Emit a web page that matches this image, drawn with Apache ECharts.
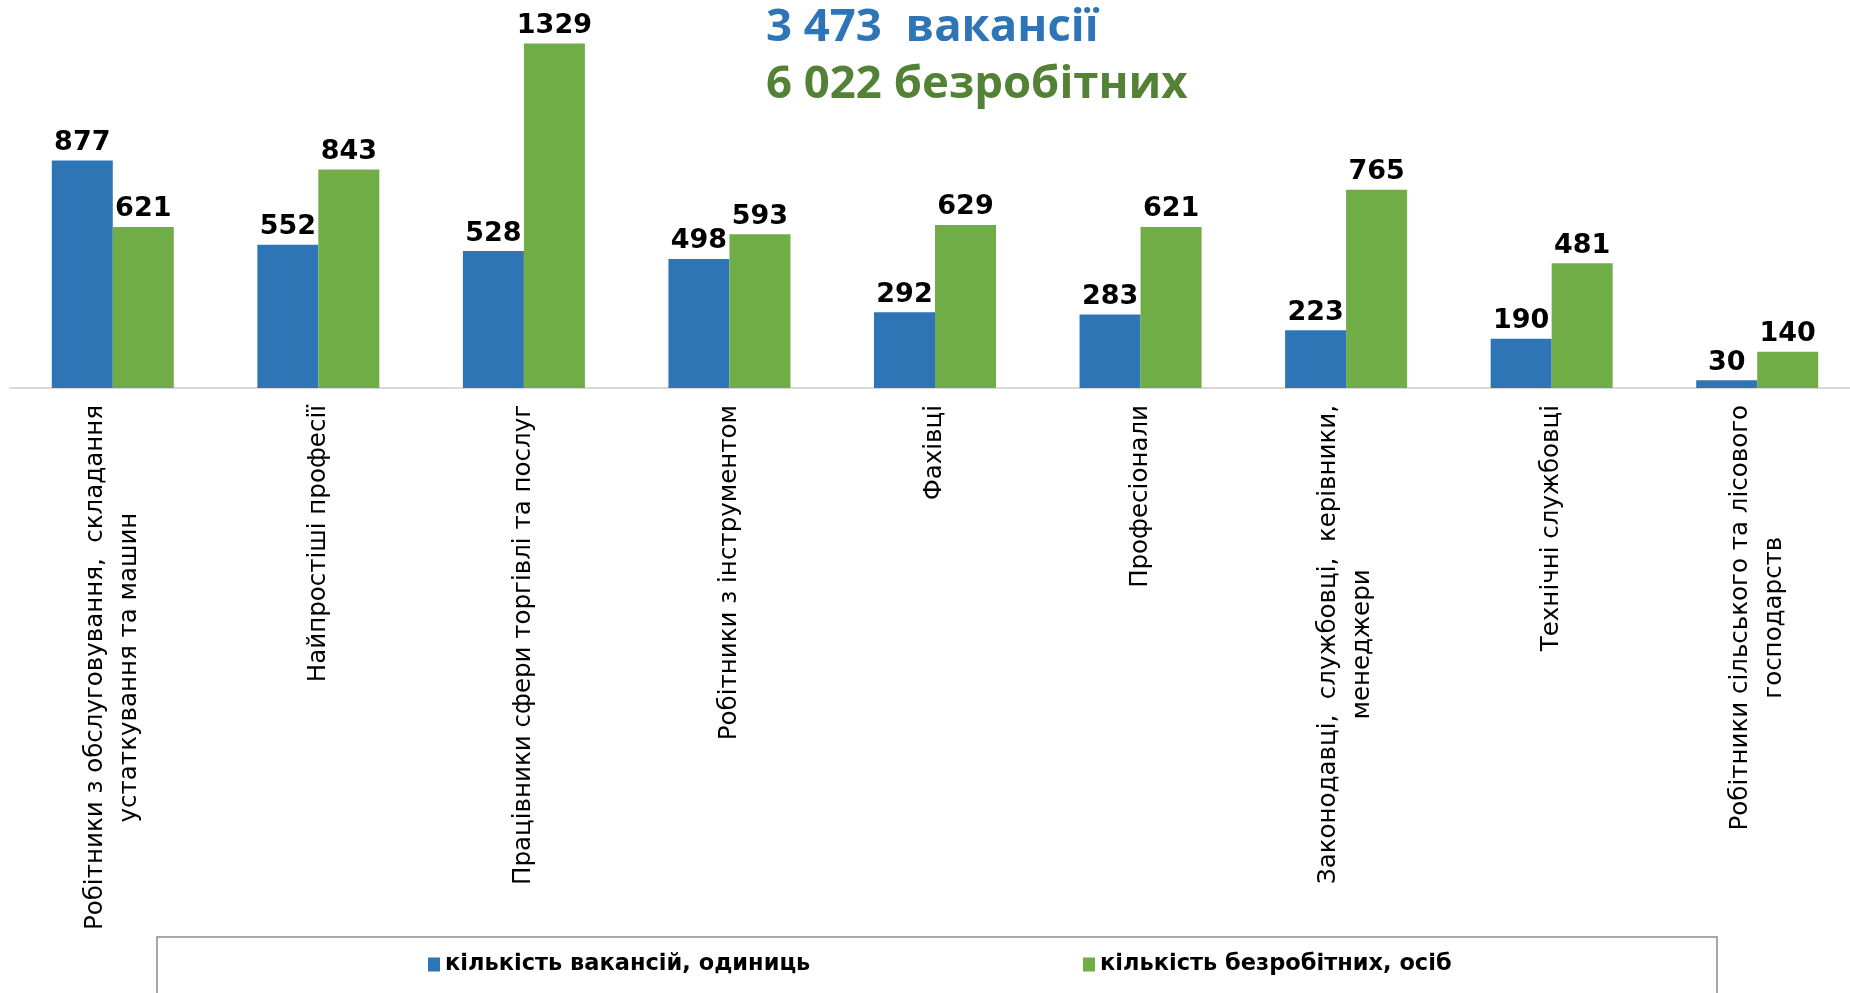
<!DOCTYPE html>
<html>
<head>
<meta charset="utf-8">
<script src="https://cdn.jsdelivr.net/npm/echarts@6/dist/echarts.min.js"></script>
<style>
  html, body { margin: 0; padding: 0; background: #fff; overflow: hidden; }
  #charts { width: 1875px; height: 993px; }
</style>
</head>
<body>
<div id="charts"></div>
<script>
// categories (line breaks as in the source chart)
const categories = [
  'Робітники з обслуговування,  складання\nустаткування та машин',
  'Найпростіші професії',
  'Працівники сфери торгівлі та послуг',
  'Робітники з інструментом',
  'Фахівці',
  'Професіонали',
  'Законодавці,  службовці,  керівники,\nменеджери',
  'Технічні службовці',
  'Робітники сільського та лісового\nгосподарств'
];
const vacancies = [877, 552, 528, 498, 292, 283, 223, 190, 30];
const unemployed = [621, 843, 1329, 593, 629, 621, 765, 481, 140];
const seriesNames = ['кількість вакансій, одиниць', 'кількість безробітних, осіб'];
const titleLines = ['3 473  вакансії', '6 022 безробітних'];

const blue = '#2E75B6';
const green = '#70AD47';

const labelStyle = {
  show: true,
  position: 'top',
  distance: 4,
  color: '#000',
  fontFamily: 'DejaVu Sans',
  fontWeight: 'bold',
  fontSize: 27
};

const legendText = {
  color: '#000',
  fontFamily: 'DejaVu Sans',
  fontWeight: 'bold',
  fontSize: 22.5
};

let myChart = echarts.init(document.querySelector('#charts'));
myChart.setOption({
  animation: false,
  title: [{
    text: titleLines[0],
    left: 766,
    top: 5,
    padding: 0,
    textStyle: { color: blue, fontFamily: 'Open Sans', fontWeight: 'bold', fontSize: 45.5 }
  }, {
    text: titleLines[1],
    left: 766,
    top: 62,
    padding: 0,
    textStyle: { color: '#538135', fontFamily: 'Open Sans', fontWeight: 'bold', fontSize: 45.5 }
  }],
  legend: [{
    data: [seriesNames[0]],
    left: 428,
    top: 953,
    padding: 0,
    itemWidth: 12,
    itemHeight: 14,
    icon: 'rect',
    selectedMode: false,
    textStyle: legendText
  }, {
    data: [seriesNames[1]],
    left: 1083,
    top: 953,
    padding: 0,
    itemWidth: 12,
    itemHeight: 14,
    icon: 'rect',
    selectedMode: false,
    textStyle: legendText
  }],
  graphic: [{
    type: 'rect',
    shape: { x: 157, y: 937, width: 1560, height: 80 },
    style: { fill: 'none', stroke: '#8c8c8c', lineWidth: 1.5 },
    silent: true
  }],
  grid: {
    left: 10,
    top: 25,
    width: 1850,
    height: 363
  },
  xAxis: {
    type: 'category',
    data: categories,
    axisLine: { lineStyle: { color: '#d9d9d9', width: 2 } },
    axisTick: { show: false },
    axisLabel: {
      interval: 0,
      rotate: 90,
      margin: 17,
      formatter: (v) => v.split('\n').map(s => '{c|' + s + '}').join('\n'),
      rich: {
        c: {
          align: 'center',
          color: '#000',
          fontFamily: 'DejaVu Sans',
          fontSize: 24.5,
          lineHeight: 34
        }
      }
    }
  },
  yAxis: {
    type: 'value',
    min: 0,
    max: 1400,
    show: false,
    splitLine: { show: false }
  },
  series: [{
    name: seriesNames[0],
    type: 'bar',
    data: vacancies,
    barWidth: 61,
    barGap: '0%',
    itemStyle: { color: blue },
    label: labelStyle
  }, {
    name: seriesNames[1],
    type: 'bar',
    data: unemployed,
    barWidth: 61,
    barGap: '0%',
    itemStyle: { color: green },
    label: labelStyle
  }]
});
</script>
</body>
</html>
